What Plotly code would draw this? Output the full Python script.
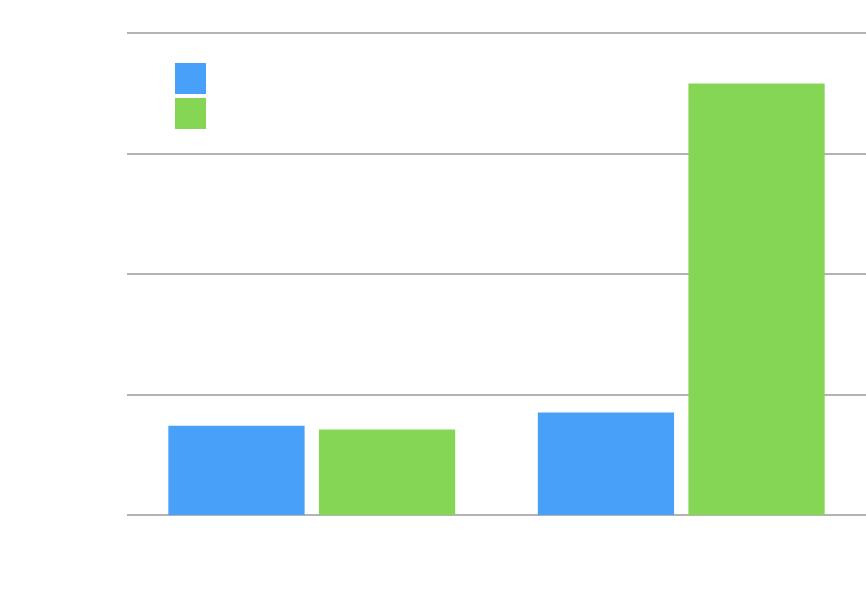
import plotly.graph_objects as go

categories = ["A", "B"]
series_names = ["Series 1", "Series 2"]
series1 = [7.4, 8.5]
series2 = [7.1, 35.8]
colors = ["#48A0F8", "#85D654"]
y_max = 40

fig = go.Figure()
for name, vals, c in zip(series_names, [series1, series2], colors):
    fig.add_trace(go.Bar(x=categories, y=vals, name=name, marker=dict(color=c, line=dict(width=0)),
                         showlegend=False, hoverinfo="skip"))

W, H = 866, 596
ml, mr, mt, mb = 127, 0, 33, 81
pw, ph = W - ml - mr, H - mt - mb

def px_x(x):
    return (x - ml) / pw

def px_y(y):
    return (H - mb - y) / ph

shapes = []
for i, c in enumerate(colors):
    y0 = 63 + i * 35
    shapes.append(dict(type="rect", xref="paper", yref="paper",
                       x0=px_x(175), x1=px_x(206), y0=px_y(y0 + 31), y1=px_y(y0),
                       fillcolor=c, line=dict(width=0)))
# top gridline at the upper end of the value axis
shapes.append(dict(type="line", xref="paper", yref="paper", x0=0, x1=1, y0=1, y1=1,
                   line=dict(color="#B3B3B3", width=2), layer="below"))

fig.update_layout(
    width=W, height=H,
    margin=dict(l=ml, r=mr, t=mt, b=mb, pad=0),
    paper_bgcolor="white", plot_bgcolor="white",
    barmode="group", bargap=0.185, bargroupgap=0.095,
    shapes=shapes,
    xaxis=dict(showticklabels=False, showgrid=False, zeroline=False, showline=False, ticks=""),
    yaxis=dict(range=[0, y_max], dtick=10, showticklabels=False, showgrid=True,
               gridcolor="#B3B3B3", gridwidth=2, zeroline=True, zerolinecolor="#B3B3B3",
               zerolinewidth=2, showline=False, ticks=""),
)
fig.write_html("out.html")
